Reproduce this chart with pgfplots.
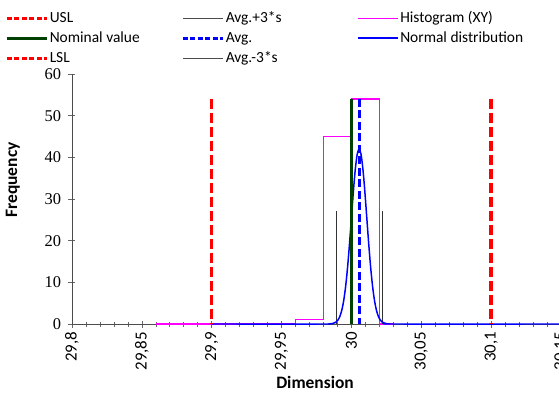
\documentclass[border=0pt]{standalone}
\usepackage{pgfplots}
\pgfplotsset{compat=1.18}
\usepackage{fontspec}
\setmainfont{Carlito}
\newfontfamily\tnr{Liberation Serif}
\definecolor{dgreen}{RGB}{0,64,0}
\definecolor{mag}{RGB}{255,0,255}
\begin{document}
\begin{tikzpicture}
\begin{axis}[
  at={(0,0)}, anchor=south west,
  scale only axis, width=489bp, height=250bp,
  xmin=29.8, xmax=30.15, ymin=0, ymax=60,
  axis lines*=left,
  axis line style={black!70, line width=0.8pt},
  xtick={29.8,29.85,...,30.16},
  minor xtick={29.81,29.82,...,30.15},
  ytick={0,10,...,60},
  tick align=center,
  major tick length=7bp, minor tick length=5bp,
  tick style={black!60, line width=0.6pt},
  /pgf/number format/assume math mode=true,
  /pgf/number format/use comma,
  /pgf/number format/fixed,
  /pgf/number format/precision=2,
  xticklabel style={rotate=90, anchor=east, font=\fontsize{17}{17}\selectfont, xshift=-1bp},
  yticklabel style={font=\tnr\fontsize{16.5}{16.5}\selectfont, xshift=-4bp},
  xlabel={\textbf{Dimension}},
  ylabel={\textbf{Frequency}},
  label style={font=\fontsize{17.5}{17.5}\selectfont},
  xlabel style={at={(axis description cs:0.497,0)}, anchor=center, yshift=-58bp},
  ylabel style={at={(axis description cs:-0.121,0.576)}, anchor=center},
  clip=false,
  legend style={draw=none, fill=none, at={(axis description cs:-0.143,1.272)}, anchor=north west,
    font=\fontsize{15.5}{15.5}\selectfont, column sep=0pt, row sep=0pt,
    nodes={inner xsep=1.5bp, inner ysep=3bp, text height=11bp, text depth=3bp}},
  legend columns=3,
  legend cell align=left,
  legend image code/.code={\draw[#1] (0bp,0bp) -- (40bp,0bp);},
]
% legend images (row-wise)
\addlegendimage{red, line width=3bp, dash pattern=on 5bp off 2.5bp}
\addlegendentry{\makebox[130bp][l]{USL}}
\addlegendimage{black!70, line width=0.6pt}
\addlegendentry{\makebox[130bp][l]{Avg.+3*s}}
\addlegendimage{mag, line width=1.2pt}
\addlegendentry{Histogram (XY)}
\addlegendimage{dgreen, line width=3bp}
\addlegendentry{\makebox[130bp][l]{Nominal value}}
\addlegendimage{blue, line width=3bp, dash pattern=on 5bp off 2.5bp}
\addlegendentry{\makebox[130bp][l]{Avg.}}
\addlegendimage{blue, line width=1.5pt}
\addlegendentry{Normal distribution}
\addlegendimage{red, line width=3bp, dash pattern=on 5bp off 2.5bp}
\addlegendentry{\makebox[130bp][l]{LSL}}
\addlegendimage{black!70, line width=0.6pt}
\addlegendentry{\makebox[130bp][l]{Avg.-3*s}}

% Histogram
\addplot[mag, line width=1.2pt, forget plot] coordinates {
 (29.86,0) (29.96,0) (29.96,1) (29.98,1) (29.98,45) (30.00,45) (30.00,54) (30.02,54) (30.02,0) (30.03,0)};
% Avg +/- 3s
\addplot[black!80, line width=0.6pt, forget plot] coordinates {(30.022,0) (30.022,27)};
\addplot[black!80, line width=0.6pt, forget plot] coordinates {(29.989,0) (29.989,27)};
% Normal distribution
\addplot[blue, line width=1.5pt, smooth, forget plot] coordinates {
 (29.9,0) (29.98,0) (29.9835,0.014) (29.98625,0.09) (29.989,0.47) (29.990375,0.96)
 (29.99175,1.85) (29.993125,3.34) (29.9945,5.68) (29.995875,9.08) (29.99725,13.64)
 (29.998625,19.23) (30.0000,25.47) (30.001375,31.70) (30.00275,37.07) (30.004125,40.71)
 (30.0055,42) (30.006875,40.71) (30.00825,37.07) (30.009625,31.70) (30.0110,25.47)
 (30.012375,19.23) (30.01375,13.64) (30.015125,9.08) (30.0165,5.68) (30.017875,3.34)
 (30.01925,1.85) (30.020625,0.96) (30.022,0.47) (30.02475,0.09) (30.0275,0.014)
 (30.031,0) (30.15,0)};
% Nominal
\addplot[dgreen, line width=3.5bp, forget plot] coordinates {(30.0,0) (30.0,54)};
% Avg
\addplot[blue, line width=3bp, dash pattern=on 8bp off 3.5bp, forget plot] coordinates {(30.0055,54) (30.0055,0)};
% USL / LSL
\addplot[red, line width=3.5bp, dash pattern=on 10bp off 4bp, forget plot] coordinates {(30.1,54) (30.1,0)};
\addplot[red, line width=3.5bp, dash pattern=on 10bp off 4bp, forget plot] coordinates {(29.9,54) (29.9,0)};
\end{axis}
\pgfresetboundingbox
\path[use as bounding box] (-72bp,-70bp) rectangle (487bp,324bp);
\end{tikzpicture}
\end{document}
